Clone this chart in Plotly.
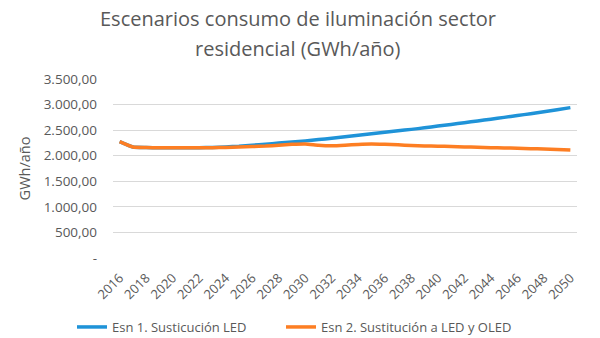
import plotly.graph_objects as go

# Años de la proyección
years = list(range(2016, 2051))

# Consumo de iluminación residencial (GWh/año) por escenario
esn1_led = [2276, 2170, 2160, 2156, 2155, 2155, 2157, 2162, 2172, 2185,
            2205, 2225, 2248, 2270, 2290, 2315, 2340, 2370, 2400, 2430,
            2460, 2490, 2515, 2545, 2580, 2612, 2645, 2680, 2715, 2750,
            2785, 2822, 2860, 2900, 2940]
esn2_led_oled = [2276, 2170, 2160, 2156, 2155, 2155, 2155, 2157, 2162, 2168,
                 2178, 2188, 2205, 2222, 2230, 2205, 2195, 2205, 2220, 2228,
                 2222, 2212, 2200, 2192, 2186, 2180, 2172, 2165, 2158, 2152,
                 2145, 2138, 2130, 2120, 2110]

series_names = ["Esn 1. Susticución LED", "Esn 2. Sustitución a LED y OLED"]
series_colors = ["#1f93d8", "#fd7e23"]

title_lines = ["Escenarios consumo de iluminación sector", "residencial (GWh/año)"]

# Marcas del eje Y con formato numérico español
y_tick_values = [0, 500, 1000, 1500, 2000, 2500, 3000, 3500]
y_tick_labels = ["-", "500,00", "1.000,00", "1.500,00", "2.000,00",
                 "2.500,00", "3.000,00", "3.500,00"]
x_tick_values = list(range(2016, 2051, 2))
x_tick_labels = [str(y) for y in x_tick_values]

FONT = "Open Sans"
GRAY = "#595959"

fig = go.Figure()
for i, (name, vals, color) in enumerate(zip(series_names, [esn1_led, esn2_led_oled], series_colors)):
    fig.add_trace(go.Scatter(
        x=years, y=vals, name=name, mode="lines",
        line=dict(color=color, width=3.5, shape="spline", smoothing=0.4),
        legend="legend" if i == 0 else "legend2",
    ))

# Título en dos líneas, centrado en la figura
for text, ypos in zip(title_lines, [18, 48]):
    fig.add_annotation(
        text=text, xref="paper", yref="paper",
        x=(298 - 113) / 464, y=(258 - ypos) / 179,
        xanchor="center", yanchor="middle", showarrow=False,
        font=dict(family=FONT, size=20, color=GRAY),
    )

legend_style = dict(
    orientation="h", xref="container", yref="container",
    xanchor="left", y=(338 - 327) / 338, yanchor="middle",
    font=dict(family=FONT, size=13, color=GRAY),
    itemwidth=30, bgcolor="rgba(0,0,0,0)",
)

fig.update_layout(
    width=600, height=338,
    margin=dict(l=113, r=23, t=79, b=80, autoexpand=False),
    paper_bgcolor="white", plot_bgcolor="white",
    font=dict(family=FONT, color=GRAY, size=13),
    showlegend=True,
    legend=dict(x=72 / 600, **legend_style),
    legend2=dict(x=281 / 600, **legend_style),
    xaxis=dict(
        range=[2015.5, 2050.5], automargin=False,
        tickmode="array", tickvals=x_tick_values, ticktext=x_tick_labels,
        tickangle=-45, tickfont=dict(size=13, color=GRAY),
        showgrid=False, zeroline=False, showline=False, ticks="",
        ticklabelstandoff=9,
    ),
    yaxis=dict(
        range=[0, 3500], automargin=False,
        tickmode="array", tickvals=y_tick_values, ticktext=y_tick_labels,
        tickfont=dict(size=13.5, color=GRAY),
        showgrid=True, gridcolor="#d9d9d9", gridwidth=1,
        zeroline=False, showline=False, ticks="", ticklen=0,
        ticklabelstandoff=15,
        title=dict(text="GWh/año", font=dict(size=14.5, color=GRAY), standoff=9),
    ),
)

fig.write_html("out.html")
